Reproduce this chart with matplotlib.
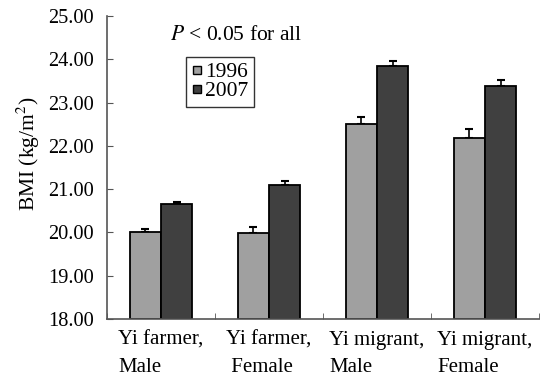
import numpy as np
import matplotlib
matplotlib.use("Agg")
import matplotlib.pyplot as plt
from matplotlib.lines import Line2D

# BMI means and upper SE by group
groups = ["Yi farmer,\nMale", "Yi farmer,\n Female", "Yi migrant,\nMale", "Yi migrant,\nFemale"]
bmi_1996 = [20.00, 19.98, 22.51, 22.19]
bmi_2007 = [20.65, 21.10, 23.85, 23.38]
se_1996 = [0.08, 0.14, 0.16, 0.21]
se_2007 = [0.06, 0.08, 0.11, 0.15]
years = ["1996", "2007"]

plt.rcParams['font.family'] = ['Liberation Serif', 'DejaVu Serif']
plt.rcParams['mathtext.fontset'] = 'stix'

fig = plt.figure(figsize=(5.54, 3.76), dpi=100)
ax = fig.add_axes([0.193, 0.152, 0.78, 0.805])

x = np.arange(len(groups))
w = 0.29
light, dark = '#a0a0a0', '#404040'
ax.bar(x - w/2, np.array(bmi_1996) - 18, w, bottom=18, color=light,
       edgecolor='black', linewidth=1.3, zorder=2)
ax.bar(x + w/2, np.array(bmi_2007) - 18, w, bottom=18, color=dark,
       edgecolor='black', linewidth=1.3, zorder=2)
ax.errorbar(x - w/2, bmi_1996, yerr=[np.zeros(4), se_1996], fmt='none',
            ecolor='black', elinewidth=1.2, capsize=3, capthick=1.5, zorder=1)
ax.errorbar(x + w/2, bmi_2007, yerr=[np.zeros(4), se_2007], fmt='none',
            ecolor='black', elinewidth=1.2, capsize=3, capthick=1.5, zorder=1)

ax.set_xlim(-0.5, 3.5)
ax.set_ylim(18, 25)
ax.set_yticks(np.arange(18, 25.01, 1))
ax.set_yticklabels([f"{v:.2f}" for v in np.arange(18, 25.01, 1)], fontsize=14.7)
ax.set_xticks(x)
ax.set_xticklabels(groups, fontsize=15, multialignment='left', linespacing=1.6)
ax.set_xticks(np.arange(-0.5, 3.6, 1), minor=True)
ax.tick_params(axis='x', which='major', length=0, pad=8.5)
ax.tick_params(axis='x', which='minor', direction='in', length=4, color='#555555')
ax.tick_params(axis='y', direction='in', length=4, color='#555555', pad=9.5)
ax.set_ylabel("BMI (kg/m$^2$)", fontsize=15.5)
ax.yaxis.set_label_coords(-0.15, 0.546)

for s in ['top', 'right']:
    ax.spines[s].set_visible(False)
for s in ['left', 'bottom']:
    ax.spines[s].set_color('#555555')
    ax.spines[s].set_linewidth(1.2)

ax.text(0.146, 0.937, "$\\mathit{P}$ < 0.05 for all", transform=ax.transAxes,
        fontsize=15.5, va='center')

handles = [Line2D([], [], marker='s', ls='none', markersize=5.5,
                  markerfacecolor=c, markeredgecolor='black', markeredgewidth=1.0)
           for c in (light, dark)]
leg = ax.legend(handles, years, loc='upper left', bbox_to_anchor=(0.183, 0.865),
                fontsize=15.5, frameon=True, fancybox=False, handlelength=0.5,
                handletextpad=0.15, borderpad=0.25, labelspacing=-0.05,
                borderaxespad=0)
leg.get_frame().set_edgecolor('black')
leg.get_frame().set_linewidth(1.0)

fig.savefig("out.png", dpi=100)
